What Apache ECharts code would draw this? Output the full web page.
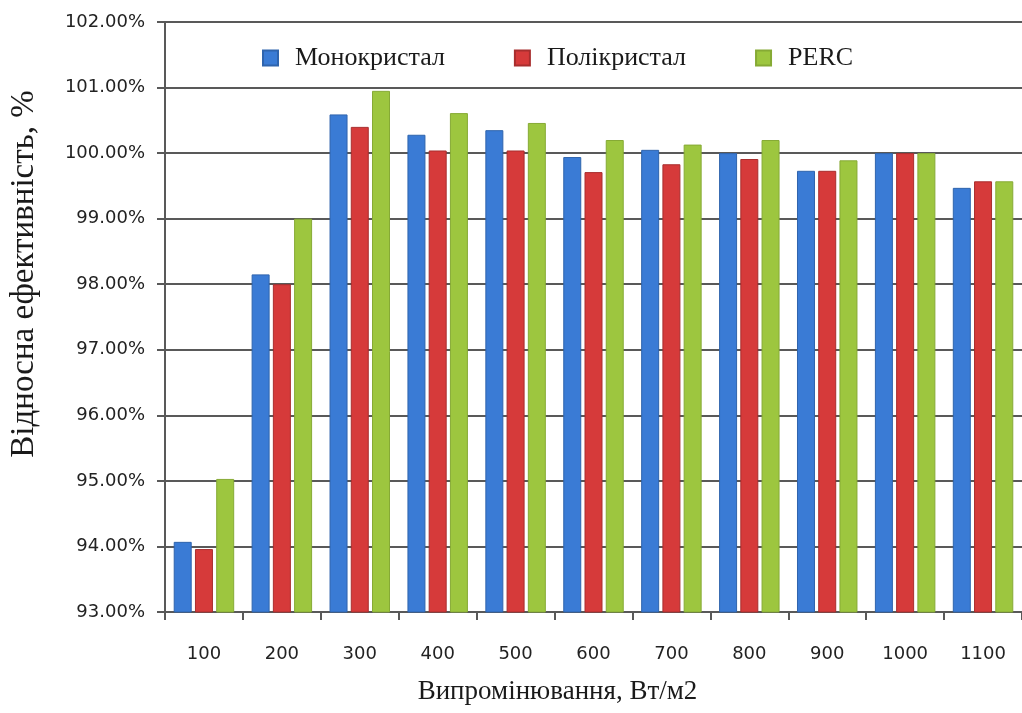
<!DOCTYPE html>
<html>
<head>
<meta charset="utf-8">
<script src="https://cdn.jsdelivr.net/npm/echarts@6/dist/echarts.min.js"></script>
<style>html,body{margin:0;padding:0;background:#fff}#c{width:1022px;height:713px}</style>
</head>
<body>
<div id="c"></div>
<script>
const categories = ['100','200','300','400','500','600','700','800','900','1000','1100'];
const mono = [94.07, 98.15, 100.59, 100.28, 100.35, 99.94, 100.05, 100.00, 99.73, 100.00, 99.47];
const poly = [93.96, 98.00, 100.40, 100.04, 100.04, 99.71, 99.83, 99.91, 99.73, 100.00, 99.57];
const perc = [95.03, 99.00, 100.95, 100.61, 100.46, 100.20, 100.13, 100.20, 99.89, 100.00, 99.57];
const seriesNames = ['Монокристал', 'Полікристал', 'PERC'];
const yAxisName = 'Відносна ефективність, %';
const xAxisName = 'Випромінювання, Вт/м2';

const colors = ['#3a7bd5', '#d63a3a', '#9dc63f'];
const borders = ['#2f64ad', '#a82e2e', '#86aa35'];
const serif = '"Liberation Serif", "Times New Roman", serif';
const lineColor = '#595959';

const chart = echarts.init(document.getElementById('c'));
const datas = [mono, poly, perc];
chart.setOption({
  animation: false,
  backgroundColor: '#ffffff',
  grid: { left: 165, right: 0, top: 22, bottom: 101, containLabel: false, outerBoundsMode: 'none' },
  legend: {
    top: 40, left: 257,
    itemWidth: 15, itemHeight: 15, itemGap: 69,
    icon: 'rect',
    data: seriesNames,
    backgroundColor: '#fff',
    textStyle: { fontFamily: serif, fontSize: 26, color: '#1a1a1a', padding: [0, 0, 0, 12] }
  },
  xAxis: {
    type: 'category',
    data: categories,
    name: xAxisName,
    nameLocation: 'middle',
    nameGap: 66,
    nameTextStyle: { fontFamily: serif, fontSize: 27, color: '#1a1a1a', padding: [0, 72, 0, 0] },
    axisLine: { lineStyle: { color: lineColor, width: 2 } },
    axisTick: { show: true, length: 8, lineStyle: { color: lineColor, width: 2 } },
    axisLabel: { fontFamily: '"DejaVu Sans", sans-serif', fontSize: 18, color: '#222', margin: 33 }
  },
  yAxis: {
    type: 'value',
    min: 93, max: 102, interval: 1,
    name: yAxisName,
    nameLocation: 'middle',
    nameGap: 124,
    nameRotate: 90,
    nameTextStyle: { fontFamily: serif, fontSize: 33, color: '#1a1a1a', padding: [0, 0, 0, 86] },
    axisLine: { show: true, lineStyle: { color: lineColor, width: 2 } },
    axisTick: { show: true, length: 8, lineStyle: { color: lineColor, width: 2 } },
    splitLine: { show: true, lineStyle: { color: lineColor, width: 2 } },
    axisLabel: {
      fontFamily: '"DejaVu Sans", sans-serif', fontSize: 18, color: '#222', margin: 20,
      formatter: v => v.toFixed(2) + '%'
    }
  },
  series: seriesNames.map((n, i) => ({
    name: n,
    type: 'bar',
    data: datas[i],
    barWidth: 18,
    barGap: '18%',
    itemStyle: { color: colors[i], borderColor: borders[i], borderWidth: 1 }
  }))
});
</script>
</body>
</html>
